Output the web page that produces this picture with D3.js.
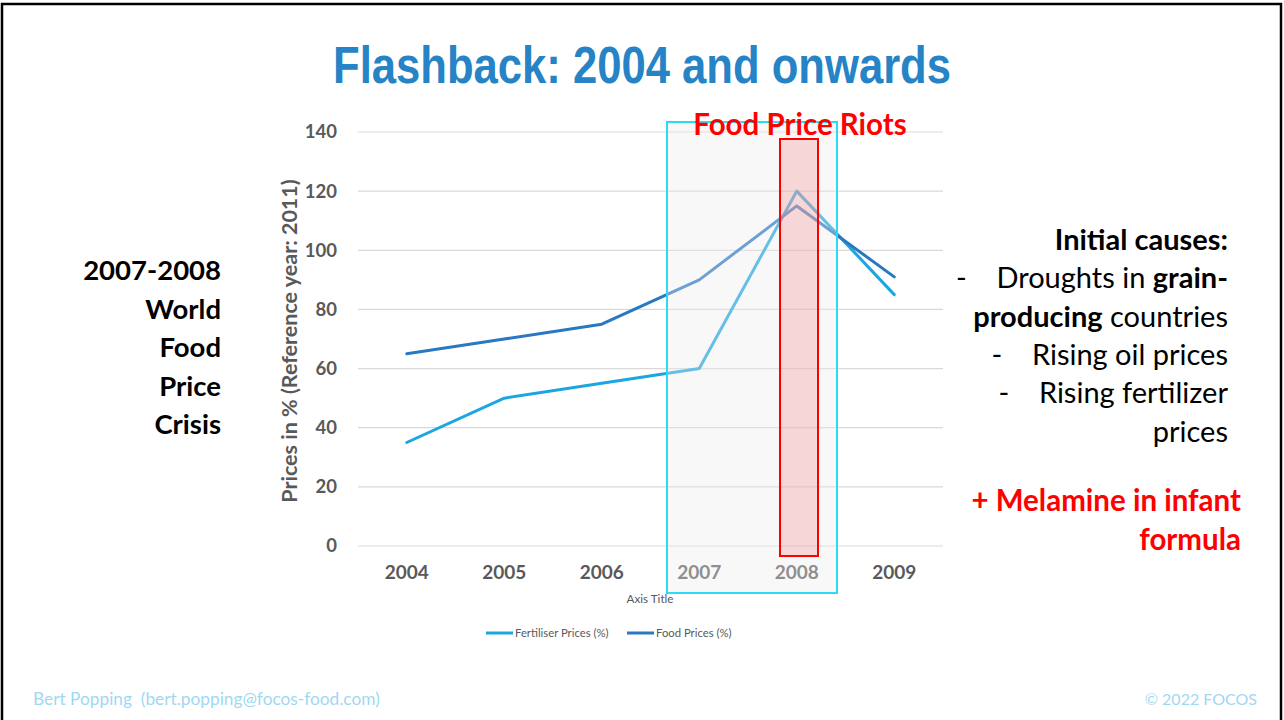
<!DOCTYPE html>
<html>
<head>
<meta charset="utf-8">
<script src="https://cdn.jsdelivr.net/npm/d3@7"></script>
<style>
  html, body { margin: 0; padding: 0; background: #fff; }
  svg { display: block; }
</style>
</head>
<body>
<svg id="slide" width="1284" height="720"></svg>
<script>
// Years on the x axis
const years = ["2004", "2005", "2006", "2007", "2008", "2009"];
// Price indices, % of 2011 level
const fertiliserPrices = [35, 50, 55, 60, 120, 85];
const foodPrices = [65, 70, 75, 90, 115, 91];
// Y axis ticks
const yTicks = [0, 20, 40, 60, 80, 100, 120, 140];

const seriesNames = ["Fertiliser Prices (%)", "Food Prices (%)"];
const seriesColors = ["#1ba6e2", "#2878c2"];

const leftLines = ["2007-2008", "World", "Food", "Price", "Crisis"];

const svg = d3.select("#slide");
const bodyFont = "Lato, 'Open Sans', sans-serif";

// slide frame
svg.append("rect").attr("x", 2).attr("y", 4).attr("width", 1279).attr("height", 718)
  .attr("fill", "none").attr("stroke", "#000").attr("stroke-width", 2.5);

// title
svg.append("text")
  .attr("x", 333).attr("y", 83)
  .attr("textLength", 618).attr("lengthAdjust", "spacingAndGlyphs")
  .attr("font-family", "'Liberation Sans Narrow', 'Liberation Sans', Arial, sans-serif")
  .attr("font-weight", "bold").attr("font-size", 52)
  .attr("fill", "#2683c6")
  .text("Flashback: 2004 and onwards");

// chart scales
const x = d3.scaleBand().domain(years).range([358, 943]);
const y = d3.scaleLinear().domain([0, 140]).range([546, 132]);
const cx = d => x(d) + x.bandwidth() / 2;

// gridlines
svg.append("g").selectAll("line").data(yTicks).join("line")
  .attr("x1", 358).attr("x2", 943)
  .attr("y1", d => y(d)).attr("y2", d => y(d))
  .attr("stroke", "#d9d9d9").attr("stroke-width", 1.2);

// y axis labels
const yAxis = d3.axisLeft(y).tickValues(yTicks).tickSize(0).tickPadding(0);
const gy = svg.append("g").attr("transform", "translate(337,0)").call(yAxis);
gy.select(".domain").remove();
gy.selectAll("text")
  .attr("font-family", bodyFont).attr("font-weight", "bold")
  .attr("font-size", 18.5).attr("fill", "#595959");

// x axis labels
const xAxis = d3.axisBottom(x).tickSize(0).tickPadding(0);
const gx = svg.append("g").attr("transform", "translate(0,565)").call(xAxis);
gx.select(".domain").remove();
gx.selectAll("text")
  .attr("font-family", bodyFont).attr("font-weight", "bold")
  .attr("font-size", 19).attr("fill", "#595959");

// y axis title
svg.append("text")
  .attr("transform", "translate(297,341) rotate(-90)")
  .attr("text-anchor", "middle")
  .attr("font-family", bodyFont).attr("font-weight", "bold")
  .attr("font-size", 21.5).attr("fill", "#595959")
  .text("Prices in % (Reference year: 2011)");

// x axis title
svg.append("text")
  .attr("x", 650).attr("y", 603).attr("text-anchor", "middle")
  .attr("font-family", bodyFont).attr("font-size", 11.7).attr("fill", "#595959")
  .text("Axis Title");

// series lines
const line = d3.line().x((d, i) => cx(years[i])).y(d => y(d));
[fertiliserPrices, foodPrices].forEach((vals, k) => {
  svg.append("path").datum(vals)
    .attr("d", line)
    .attr("fill", "none")
    .attr("stroke", seriesColors[k])
    .attr("stroke-width", 3)
    .attr("stroke-linejoin", "round")
    .attr("stroke-linecap", "round");
});

// legend
const legend = svg.append("g").attr("font-family", bodyFont).attr("font-size", 11.3).attr("fill", "#595959");
const legendX = [486, 627];
seriesNames.forEach((name, k) => {
  legend.append("line")
    .attr("x1", legendX[k]).attr("x2", legendX[k] + 27)
    .attr("y1", 633).attr("y2", 633)
    .attr("stroke", seriesColors[k]).attr("stroke-width", 3);
  legend.append("text")
    .attr("x", legendX[k] + 29).attr("y", 637)
    .text(name);
});

// crisis period highlight (2007 – 2008)
svg.append("rect")
  .attr("x", 667).attr("y", 122).attr("width", 170).attr("height", 471)
  .attr("fill", "#ebebeb").attr("fill-opacity", 0.36)
  .attr("stroke", "#2cdaf6").attr("stroke-width", 2);

// riot period marker
svg.append("rect")
  .attr("x", 780).attr("y", 139).attr("width", 38).attr("height", 417)
  .attr("fill", "#f07c7c").attr("fill-opacity", 0.28)
  .attr("stroke", "#ff0000").attr("stroke-width", 2);

svg.append("text")
  .attr("x", 800).attr("y", 135).attr("text-anchor", "middle")
  .attr("font-family", bodyFont).attr("font-weight", "bold")
  .attr("font-size", 29.5).attr("fill", "#ff0000")
  .text("Food Price Riots");

// left caption
svg.append("g").selectAll("text").data(leftLines).join("text")
  .attr("x", 221).attr("y", (d, i) => 280 + i * 38.5)
  .attr("text-anchor", "end")
  .attr("font-family", bodyFont).attr("font-weight", "bold")
  .attr("font-size", 27.5).attr("fill", "#000")
  .text(d => d);

// right caption
const right = svg.append("g").attr("font-family", bodyFont).attr("font-size", 29)
  .attr("fill", "#000").attr("text-anchor", "end");
const rightLines = [
  [{t: "Initial causes:", b: true}],
  [{t: "-    Droughts in ", b: false}, {t: "grain-", b: true}],
  [{t: "producing", b: true}, {t: " countries", b: false}],
  [{t: "-    Rising oil prices", b: false}],
  [{t: "-    Rising fertilizer", b: false}],
  [{t: "prices", b: false}]
];
rightLines.forEach((parts, i) => {
  const t = right.append("text").attr("x", 1228).attr("y", 250 + i * 38.3)
    .attr("xml:space", "preserve").style("white-space", "pre");
  parts.forEach(p => t.append("tspan").attr("font-weight", p.b ? "bold" : "normal").text(p.t));
});

["+ Melamine in infant", "formula"].forEach((s, i) => {
  svg.append("text")
    .attr("x", 1241).attr("y", 511 + i * 39)
    .attr("text-anchor", "end")
    .attr("font-family", bodyFont).attr("font-weight", "bold")
    .attr("font-size", 29.5).attr("fill", "#ff0000")
    .text(s);
});

// footer
svg.append("text")
  .attr("x", 33).attr("y", 705)
  .attr("font-family", bodyFont).attr("font-size", 17.3).attr("fill", "#9fd8f2")
  .style("white-space", "pre")
  .text("Bert Popping  (bert.popping@focos-food.com)");
svg.append("text")
  .attr("x", 1257).attr("y", 705).attr("text-anchor", "end")
  .attr("font-family", bodyFont).attr("font-size", 16).attr("fill", "#9fd8f2")
  .text("© 2022 FOCOS");
</script>
</body>
</html>
